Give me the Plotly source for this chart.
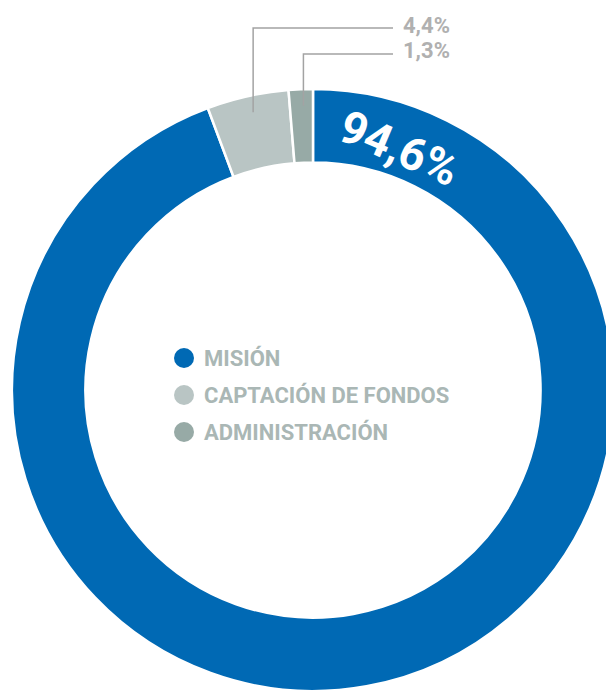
import math
import plotly.graph_objects as go

categories = ["MISIÓN", "CAPTACIÓN DE FONDOS", "ADMINISTRACIÓN"]
values = [94.6, 4.4, 1.3]
value_labels = ["94,6%", "4,4%", "1,3%"]
colors = ["#0069b4", "#b9c5c4", "#97aaa6"]

# body has an 8px default margin -> figure is 606x683, offset 8px
OFF = 8
W, H = 614 - OFF, 691 - OFF
FONT = "Roboto, sans-serif"

dom_x = [(12 - OFF) / W, 1.0]
dom_y = [0.0, 1 - (89 - OFF) / H]
cx = (dom_x[0] + dom_x[1]) / 2 * W
cy = H - (dom_y[0] + dom_y[1]) / 2 * H
R = min((dom_x[1] - dom_x[0]) * W, (dom_y[1] - dom_y[0]) * H) / 2


def px(x):
    return (x - OFF) / W


def py(y):
    return 1 - (y - OFF) / H


fig = go.Figure(
    go.Pie(
        values=values,
        labels=categories,
        marker=dict(colors=colors, line=dict(color="white", width=2.5)),
        hole=0.756,
        sort=False,
        direction="clockwise",
        rotation=0,
        textinfo="none",
        hoverinfo="label+percent",
        domain=dict(x=dom_x, y=dom_y),
        showlegend=False,
    )
)

shapes = []
annotations = []

# big label inside the main slice
annotations.append(dict(
    x=px(399), y=py(148), xref="paper", yref="paper",
    xanchor="center", yanchor="middle",
    text="<b>" + value_labels[0] + "</b>", showarrow=False, textangle=23,
    font=dict(family=FONT, size=46, color="white"),
    bgcolor="rgba(0,0,0,0)", borderwidth=0,
))

# leader lines + small labels for the small slices
total = sum(values)
label_y = [None, 28, 54]
for i in (1, 2):
    start = sum(values[:i]) / total
    mid = (start + values[i] / total / 2) * 2 * math.pi
    r = 0.945 * R
    x0 = cx + r * math.sin(mid) + 2
    y0 = cy - r * math.cos(mid)
    ly = label_y[i]
    shapes.append(dict(
        type="path", xref="paper", yref="paper",
        path=f"M {x0 / W},{1 - y0 / H} L {x0 / W},{py(ly)} L {px(393)},{py(ly)}",
        line=dict(color="#a3a3a3", width=1.5),
    ))
    annotations.append(dict(
        x=px(401), y=py(ly - 3), xref="paper", yref="paper",
        xanchor="left", yanchor="middle",
        text="<b>" + value_labels[i] + "</b>", showarrow=False,
        font=dict(family=FONT, size=22, color="#b0b0b0"),
    ))

# custom legend
leg_y = [358, 395, 432]
for i, name in enumerate(categories):
    shapes.append(dict(
        type="circle", xref="paper", yref="paper",
        xsizemode="pixel", ysizemode="pixel",
        xanchor=px(184), yanchor=py(leg_y[i]),
        x0=-10, x1=10, y0=-10, y1=10,
        fillcolor=colors[i], line=dict(width=0),
    ))
    annotations.append(dict(
        x=px(202), y=py(leg_y[i]), xref="paper", yref="paper",
        xanchor="left", yanchor="middle",
        text="<b>" + name + "</b>", showarrow=False,
        font=dict(family=FONT, size=22, color="#aab7b5"),
    ))

fig.update_layout(
    width=W, height=H,
    margin=dict(l=0, r=0, t=0, b=0),
    paper_bgcolor="white", plot_bgcolor="white",
    shapes=shapes, annotations=annotations,
)

fig.write_html("out.html")
